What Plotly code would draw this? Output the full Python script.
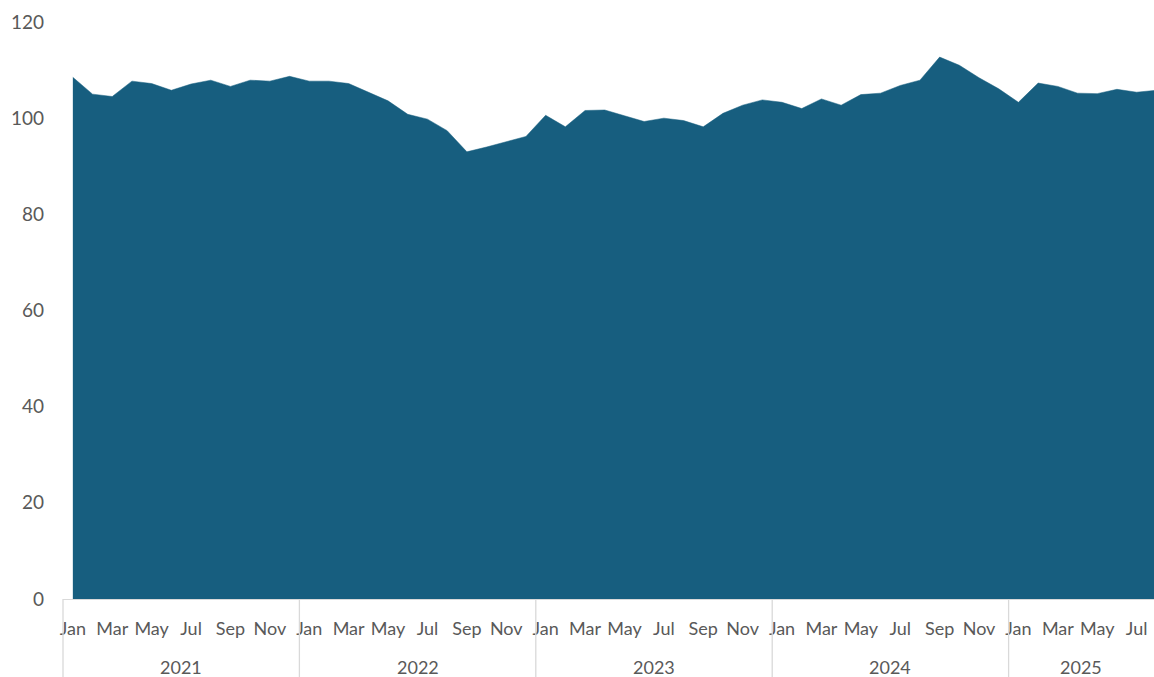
import plotly.graph_objects as go

months = ["Jan", "Feb", "Mar", "Apr", "May", "Jun", "Jul", "Aug", "Sep", "Oct", "Nov", "Dec"]
years = ["2021", "2022", "2023", "2024", "2025"]

values_2021 = [108.5, 105.0, 104.5, 107.7, 107.2, 105.8, 107.1, 107.9, 106.6, 107.9, 107.7, 108.7]
values_2022 = [107.7, 107.7, 107.2, 105.4, 103.6, 100.8, 99.8, 97.4, 93.0, 94.0, 95.1, 96.2]
values_2023 = [100.6, 98.2, 101.6, 101.7, 100.5, 99.3, 100.0, 99.5, 98.2, 101.0, 102.7, 103.8]
values_2024 = [103.3, 102.0, 104.0, 102.7, 104.9, 105.2, 106.8, 107.9, 112.7, 111.0, 108.4, 106.1]
values_2025 = [103.3, 107.3, 106.6, 105.2, 105.1, 106.0, 105.4, 105.8]

values = values_2021 + values_2022 + values_2023 + values_2024 + values_2025
labels = [f"{m} {y}" for y in years for m in months][:len(values)]
idx = list(range(len(values)))

W, H = 1154, 677
L, R, T, B = 63, 0, 22, 78
px_per = 19.7
x0 = -0.5
x1 = x0 + (W - L - R) / px_per

fill_color = "#175E7F"
text_color = "#595959"
line_color = "#D9D9D9"
font_family = "Lato, 'Open Sans', sans-serif"

fig = go.Figure()
fig.add_trace(go.Scatter(
    x=idx, y=values, mode="lines", fill="tozeroy",
    line=dict(color=fill_color, width=0.5),
    fillcolor=fill_color, hovertext=labels, hoverinfo="text+y",
))

tickvals = [i for i in idx if i % 2 == 0]
ticktext = [months[i % 12] for i in tickvals]

def xp(v):
    return (v - x0) / (x1 - x0)

plot_h = H - T - B
shapes = []
for k in range(len(years)):
    sx = xp(k * 12 - 0.5)
    shapes.append(dict(type="line", xref="paper", yref="paper",
                       x0=sx, x1=sx, y0=0, y1=-B / plot_h,
                       line=dict(color=line_color, width=1.3)))

annotations = []
for k, yr in enumerate(years):
    if k < len(years) - 1:
        center = k * 12 + 5.5
    else:
        center = ((k * 12 - 0.5) + x1) / 2
    annotations.append(dict(x=center, xref="x", y=-68 / plot_h, yref="paper",
                            text=yr, showarrow=False, yanchor="middle",
                            font=dict(family=font_family, size=18, color=text_color)))

fig.update_layout(
    width=W, height=H,
    margin=dict(l=L, r=R, t=T, b=B),
    paper_bgcolor="white", plot_bgcolor="white",
    showlegend=False,
    shapes=shapes, annotations=annotations,
    xaxis=dict(range=[x0, x1], tickmode="array", tickvals=tickvals, ticktext=ticktext,
               showgrid=False, zeroline=False, showline=True, linecolor=line_color, linewidth=1.3,
               ticks="", tickfont=dict(family=font_family, size=18, color=text_color),
               ticklabelstandoff=13),
    yaxis=dict(range=[0, 120], tickvals=[0, 20, 40, 60, 80, 100, 120],
               showgrid=False, zeroline=False, showline=False, ticks="",
               tickfont=dict(family=font_family, size=19, color=text_color),
               ticklabelstandoff=18),
)

fig.write_html(
    "out.html",
    config={"responsive": False, "displayModeBar": False},
    post_script="document.body.style.margin='0';document.body.style.overflow='hidden';",
)
